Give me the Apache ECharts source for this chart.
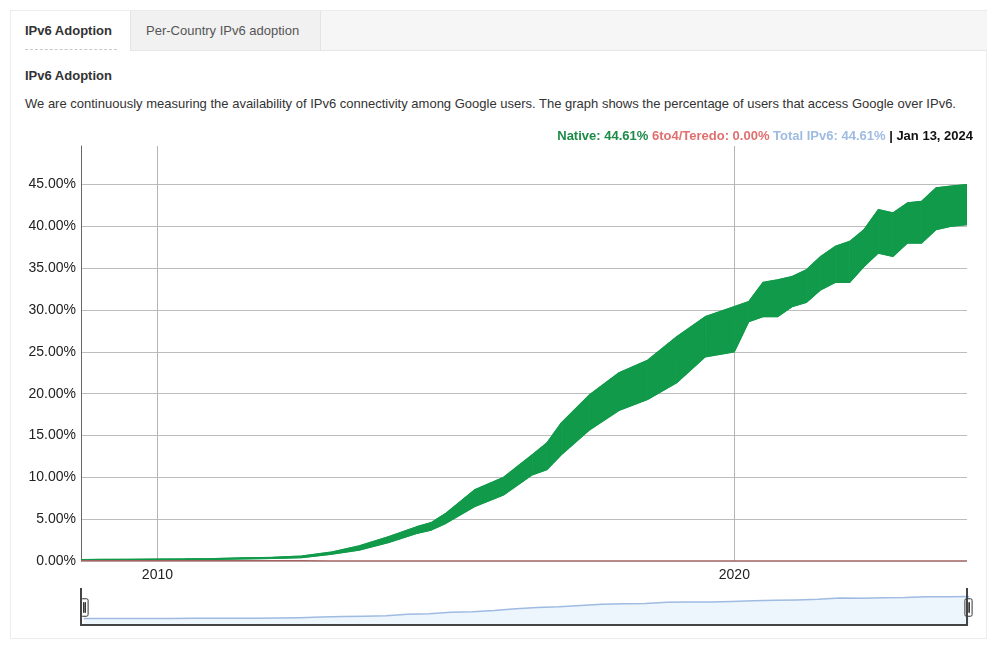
<!DOCTYPE html>
<html>
<head>
<meta charset="utf-8">
<script src="https://cdn.jsdelivr.net/npm/echarts@6/dist/echarts.min.js"></script>
<style>
  html, body { margin: 0; padding: 0; background: #fff; }
  body { width: 996px; height: 651px; position: relative; overflow: hidden; font-family: "Liberation Sans", Arial, sans-serif; color: #333; }
  .panel { position: absolute; left: 10px; top: 10px; width: 977px; height: 629px; border: 1px solid #ececec; box-sizing: border-box; }
  .tabbar { position: absolute; left: 11px; top: 11px; width: 976px; height: 40px; background: #f6f6f6; border-bottom: 1px solid #e6e6e6; box-sizing: border-box; }
  .tab1 { position: absolute; left: 11px; top: 11px; width: 119px; height: 40px; background: #fff; }
  .tab1 span { position: absolute; left: 14px; top: 12px; font-weight: bold; font-size: 13px; color: #333; }
  .tab1 .dash { position: absolute; left: 14px; top: 38px; width: 92px; border-bottom: 1px dashed #c8c8c8; }
  .tab2 { position: absolute; left: 130px; top: 11px; width: 191px; height: 39px; background: #f1f1f1; border-left: 1px solid #e4e4e4; border-right: 1px solid #e4e4e4; box-sizing: border-box; }
  .tab2 span { position: absolute; left: 15px; top: 12px; font-size: 13px; color: #555; }
  .title { position: absolute; left: 25px; top: 68px; font-weight: bold; font-size: 13px; color: #333; }
  .desc { position: absolute; left: 25px; top: 96px; font-size: 13px; color: #333; white-space: nowrap; }
  #chart { position: absolute; left: 0; top: 0; width: 996px; height: 651px; }
</style>
</head>
<body>
<div class="panel"></div>
<div class="tabbar"></div>
<div class="tab1"><span>IPv6 Adoption</span><div class="dash"></div></div>
<div class="tab2"><span>Per-Country IPv6 adoption</span></div>
<div class="title">IPv6 Adoption</div>
<div class="desc">We are continuously measuring the availability of IPv6 connectivity among Google users. The graph shows the percentage of users that access Google over IPv6.</div>
<div id="chart"></div>
<script>
// ---- data ----
var dates = ['2008-09-04','2009-01-01','2009-07-01','2010-01-01','2010-07-01','2011-01-01','2011-07-01','2012-01-01','2012-07-01','2013-01-01','2013-07-01','2014-01-01','2014-07-01','2014-10-01','2015-01-01','2015-07-01','2016-01-01','2016-07-01','2016-10-01','2017-01-01','2017-07-01','2018-01-01','2018-07-01','2019-01-01','2019-07-01','2020-01-01','2020-04-01','2020-07-01','2020-10-01','2021-01-01','2021-04-01','2021-07-01','2021-10-01','2022-01-01','2022-04-01','2022-07-01','2022-10-01','2023-01-01','2023-04-01','2023-07-01','2023-10-01','2024-01-13'];
// weekly low (weekday) and high (weekend) envelope of native IPv6 share, %
var nativeLow  = [0.12,0.14,0.15,0.16,0.17,0.2,0.25,0.3,0.4,0.8,1.3,2.2,3.3,3.7,4.5,6.5,7.9,10.3,10.9,12.7,15.7,18.0,19.3,21.3,24.4,25.0,28.6,29.2,29.2,30.4,30.9,32.4,33.3,33.3,35.2,36.8,36.4,38.0,38.0,39.6,40.0,40.2];
var nativeHigh = [0.16,0.19,0.21,0.24,0.26,0.3,0.38,0.45,0.6,1.05,1.8,2.9,4.1,4.6,5.7,8.5,10.0,12.7,14.1,16.5,19.9,22.5,24.0,26.8,29.2,30.4,31.0,33.3,33.6,34.0,34.8,36.4,37.6,38.2,39.6,42.0,41.6,42.8,43.0,44.6,44.8,45.0];
var sixToFour  = [0.03,0.03,0.03,0.03,0.03,0.03,0.02,0.02,0.02,0.01,0.01,0.01,0.01,0.01,0.01,0,0,0,0,0,0,0,0,0,0,0,0,0,0,0,0,0,0,0,0,0,0,0,0,0,0,0];
var yTicks = [0,5,10,15,20,25,30,35,40,45];
var xTickYears = [2010, 2020];
var xRange = ['2008-09-04', '2024-01-13'];
var latest = { nativePct: '44.61%', teredoPct: '0.00%', totalPct: '44.61%', date: 'Jan 13, 2024' };

// date string -> fractional year (x coordinate on a value axis)
function toYear(s) {
  var d = new Date(s + 'T00:00:00Z');
  var y = d.getUTCFullYear();
  var a = Date.UTC(y, 0, 1), b = Date.UTC(y + 1, 0, 1);
  return y + (d.getTime() - a) / (b - a);
}

var GREEN = '#109a4a';
var xs = dates.map(toYear);
var highData = xs.map(function (x, i) { return [x, nativeHigh[i]]; });
var lowData = xs.map(function (x, i) { return [x, nativeLow[i]]; });
var bandData = xs.map(function (x, i) { return [x, nativeLow[i], nativeHigh[i]]; });
var teredoData = xs.map(function (x, i) { return [x, sixToFour[i]]; });

function renderBand(params, api) {
  var i = params.dataIndexInside;
  if (i >= params.dataInsideLength - 1) return null;
  var a0 = api.coord([api.value(0, i), api.value(1, i)]);
  var a1 = api.coord([api.value(0, i), api.value(2, i)]);
  var b0 = api.coord([api.value(0, i + 1), api.value(1, i + 1)]);
  var b1 = api.coord([api.value(0, i + 1), api.value(2, i + 1)]);
  return {
    type: 'polygon',
    shape: { points: [a0, b0, b1, a1] },
    style: { fill: GREEN, stroke: GREEN, lineWidth: 0.8 }
  };
}

var richFont = '"Liberation Sans", Arial';
var chart = echarts.init(document.getElementById('chart'), null, { renderer: 'canvas' });
chart.setOption({
  animation: false,
  textStyle: { fontFamily: '"Liberation Sans", Arial, sans-serif' },
  title: {
    right: 23, top: 130, padding: 0,
    text: '{n|Native: ' + latest.nativePct + '} {t|6to4/Teredo: ' + latest.teredoPct + '} {tot|Total IPv6: ' + latest.totalPct + '} {d|| ' + latest.date + '}',
    textStyle: {
      fontSize: 13, fontWeight: 'bold',
      rich: {
        n: { color: '#1b8c47', fontSize: 13, fontWeight: 'bold', fontFamily: richFont },
        t: { color: '#e07070', fontSize: 13, fontWeight: 'bold', fontFamily: richFont },
        tot: { color: '#9fbbe2', fontSize: 13, fontWeight: 'bold', fontFamily: richFont },
        d: { color: '#111', fontSize: 13, fontWeight: 'bold', fontFamily: richFont }
      }
    }
  },
  grid: { left: 81, right: 29, top: 146, bottom: 90 },
  xAxis: {
    type: 'value',
    min: toYear(xRange[0]), max: toYear(xRange[1]),
    axisLine: { show: false },
    axisTick: { show: false, customValues: xTickYears },
    axisLabel: {
      customValues: xTickYears,
      formatter: function (v) { return String(Math.round(v)); },
      color: '#222', fontSize: 14, margin: 7, fontFamily: richFont
    },
    splitLine: { show: true, lineStyle: { color: '#b4b4b4', width: 1 } }
  },
  yAxis: {
    type: 'value', min: 0, max: 49.6, interval: 5,
    axisLine: { show: true, lineStyle: { color: '#666', width: 1 } },
    axisTick: { show: false },
    axisLabel: {
      color: '#222', fontSize: 14, margin: 5, showMaxLabel: false, fontFamily: richFont,
      formatter: function (v) { return yTicks.indexOf(Math.round(v * 100) / 100) >= 0 ? v.toFixed(2) + '%' : ''; }
    },
    splitLine: { show: true, showMaxLine: false, lineStyle: { color: '#bdbdbd', width: 1 } }
  },
  dataZoom: [{
    type: 'slider', xAxisIndex: 0, start: 0, end: 100, filterMode: 'none',
    left: 81, right: 29, top: 590, height: 35,
    borderColor: 'transparent', backgroundColor: 'transparent',
    fillerColor: 'rgba(0,0,0,0)',
    showDetail: false, brushSelect: false, moveHandleSize: 0,
    handleIcon: 'path://M1.5,0 L5.5,0 Q7,0 7,1.5 L7,15.5 Q7,17 5.5,17 L1.5,17 Q0,17 0,15.5 L0,1.5 Q0,0 1.5,0 Z M2.6,3.5 L2.9,3.5 L2.9,13.5 L2.6,13.5 Z M4.1,3.5 L4.4,3.5 L4.4,13.5 L4.1,13.5 Z',
    handleSize: '50%',
    handleStyle: { color: '#fff', borderColor: '#333', borderWidth: 1 },
    dataBackground: { lineStyle: { color: '#9fbbe2', width: 1.5, opacity: 1 }, areaStyle: { color: '#edf5fd', opacity: 1 } },
    selectedDataBackground: { lineStyle: { color: '#9fbbe2', width: 1.5, opacity: 1 }, areaStyle: { color: '#edf5fd', opacity: 1 } }
  }],
  graphic: [{
    type: 'polyline', silent: true, z: 100,
    shape: { points: [[81, 588], [81, 625], [967, 625], [967, 588]] },
    style: { stroke: '#444', lineWidth: 2, fill: null }
  }],
  series: [
    {
      name: 'Total IPv6', type: 'line', data: highData,
      showSymbol: false, symbol: 'none',
      lineStyle: { color: GREEN, width: 1.2 }, z: 3
    },
    {
      name: 'Native', type: 'custom', data: bandData,
      renderItem: renderBand, clip: true,
      encode: { x: 0, y: [1, 2] }, z: 3
    },
    {
      name: 'Native (weekday)', type: 'line', data: lowData,
      showSymbol: false, symbol: 'none',
      lineStyle: { color: GREEN, width: 1.2 }, z: 3
    },
    {
      name: '6to4/Teredo', type: 'line', data: teredoData,
      showSymbol: false, symbol: 'none',
      lineStyle: { color: '#a86262', width: 1.5 }, z: 4
    }
  ]
});
</script>
</body>
</html>
